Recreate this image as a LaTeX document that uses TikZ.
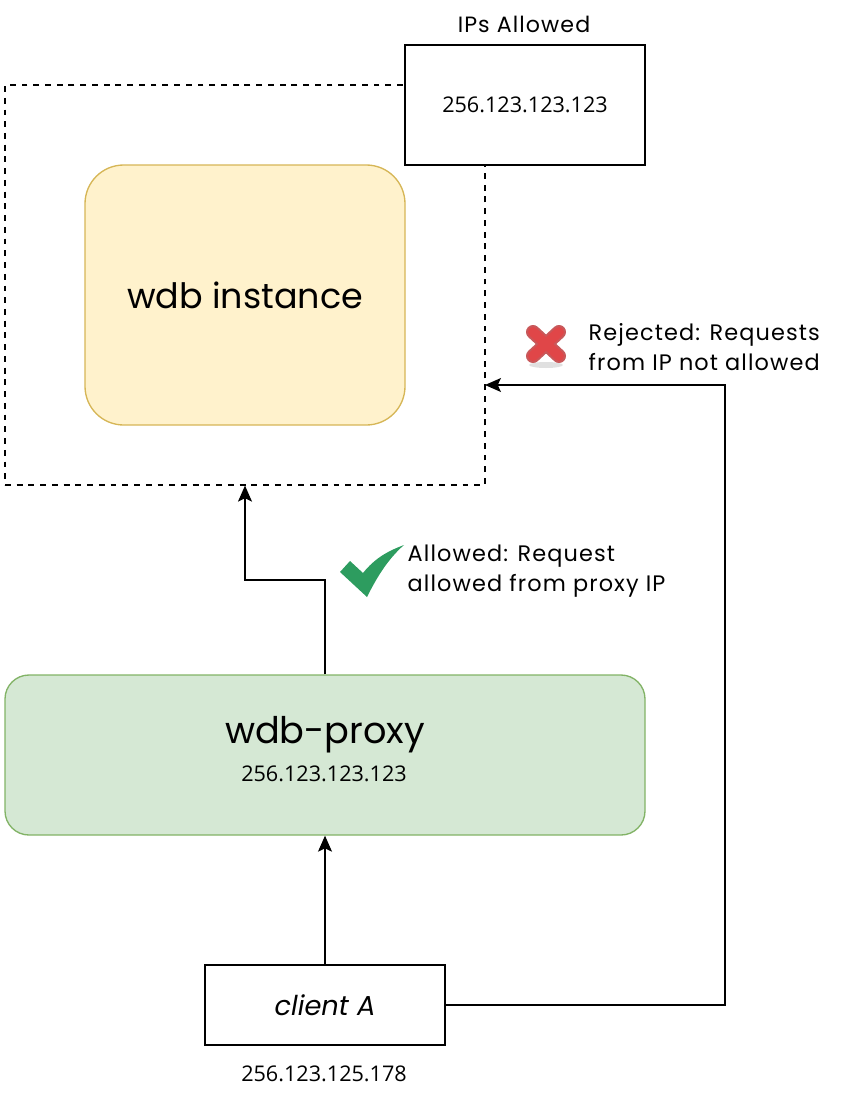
\documentclass[tikz,border=0pt]{standalone}
\usepackage{fontspec}
\setmainfont{Poppins}
\newfontfamily\labelfont[LetterSpace=5]{Poppins}
\newfontfamily\numfont{Open Sans}
\usepackage{tikz}
\usetikzlibrary{arrows.meta}
\definecolor{wdbyellow}{HTML}{FFF2CC}
\definecolor{wdbyellowline}{HTML}{D6B656}
\definecolor{proxygreen}{HTML}{D5E8D4}
\definecolor{proxygreenline}{HTML}{82B366}
\definecolor{tickgreen}{HTML}{2D9C5F}
\definecolor{crossred}{HTML}{E04648}
\definecolor{crossedge}{HTML}{C8585A}
\tikzset{
    plainbox/.style={draw, line width=0.9pt, fill=white, minimum width=180pt, align=center},
    softbox/.style={draw, line width=1pt, align=center},
    label/.style={align=left, anchor=west, font=\labelfont\fontsize{16.8}{22}\selectfont},
    numtext/.style={font=\numfont\fontsize{16.2}{20}\selectfont},
    conn/.style={line width=0.9pt, -{Stealth[length=12pt, width=10.5pt, inset=2.5pt]}}
}
\begin{document}
\begin{tikzpicture}[x=0.75pt, y=-0.75pt]
    \useasboundingbox (0,0) rectangle (850,1110);
    \node (zone) at (245,285) [draw, dash pattern=on 4.4pt off 4.4pt, line width=0.9pt, minimum width=360pt, minimum height=300pt] {};
    \node (allowed) at (525,105) [plainbox, minimum height=90pt, numtext] {256.123.123.123};
    \node (allowedtitle) at (524,24) [font=\labelfont\fontsize{16.6}{20}\selectfont] {IPs Allowed};
    \node (wdb) at (245,295) [softbox, rounded corners=29pt, fill=wdbyellow, draw=wdbyellowline, minimum width=240pt, minimum height=195pt, font=\fontsize{26.2}{32}\selectfont] {wdb instance};
    \node (proxy) at (325,755) [softbox, rounded corners=18pt, fill=proxygreen, draw=proxygreenline, minimum width=480pt, minimum height=120pt] {};
    \node (proxyname) at (325,735) [font=\fontsize{27.5}{32}\selectfont] {wdb-proxy};
    \node (proxyip) at (324,774) [numtext] {256.123.123.123};
    \node (client) at (325,1005) [plainbox, minimum height=60pt, font=\itshape\fontsize{20.5}{24}\selectfont] {client A};
    \node (clientip) at (324,1074) [numtext] {256.123.125.178};
    \node (rejected) at (584,347) [label] {Rejected: Requests\\from IP not allowed};
    \node (ok) at (403,571) [label] {Allowed: Request\\allowed from proxy IP};
    % icons
    \fill[black!12] (546,365) ellipse (17 and 3);
    \draw[line width=10.5pt, crossedge, line cap=round] (533,332) -- (559,356) (559,332) -- (533,356);
    \draw[line width=7.5pt, crossred, line cap=round] (533,332) -- (559,356) (559,332) -- (533,356);
    \fill[tickgreen] (340,572) -- (350,561) -- (363,573) .. controls (375,558) and (388,551) .. (404,545)
        .. controls (388,559) and (377,577) .. (367,597) -- cycle;
    \coordinate (zoneright) at (485,385);
    \coordinate (bendA) at (325,580);
    \coordinate (bendB) at (245,580);
    \coordinate (bendC) at (725,1005);
    \coordinate (bendD) at (725,385);
    \draw[conn] (proxy.north -| bendA) -- (bendA) -- (bendB) -- (zone.south);
    \draw[conn] (client.north) -- (proxy.south);
    \draw[conn] (client.east) -- (bendC) -- (bendD) -- (zoneright);
\end{tikzpicture}
\end{document}
